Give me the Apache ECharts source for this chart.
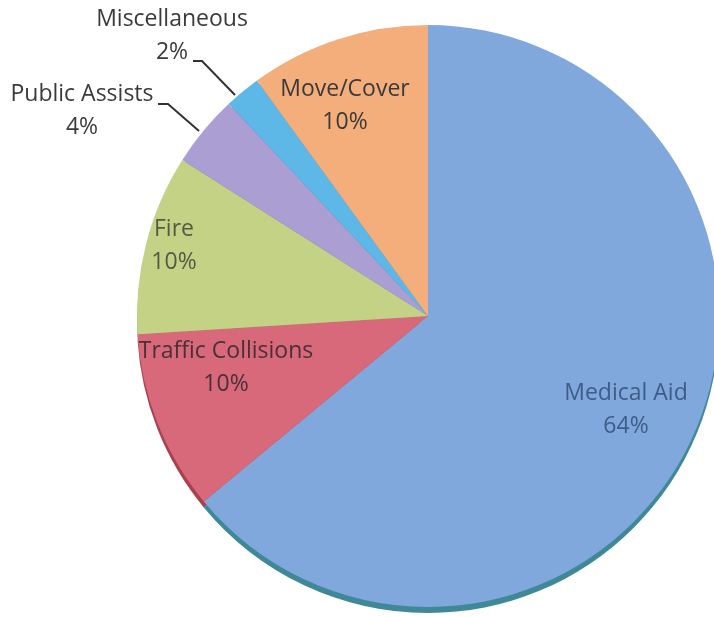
<!DOCTYPE html>
<html>
<head>
<meta charset="utf-8">
<script src="https://cdn.jsdelivr.net/npm/echarts@6/dist/echarts.min.js"></script>
<style>
html,body{margin:0;padding:0;background:#fff;}
#c{width:714px;height:617px;}
</style>
</head>
<body>
<div id="c"></div>
<script>
var categories = ['Medical Aid', 'Traffic Collisions', 'Fire', 'Public Assists', 'Miscellaneous', 'Move/Cover'];
var values = [64, 10, 10, 4, 2, 10];

var colors = ['#80a8dc', '#d8697a', '#c4d286', '#ab9ed2', '#5db8e8', '#f3ae7c'];
var rimColors = ['#3f8898', '#a8404e', '#96a45c', '#7f70a4', '#3a88b0', '#c08050'];
var textColors = ['#3e5d86', '#4a3036', '#555a45', '#3a3a3a', '#3a3a3a', '#3a3a3a'];
var outsideSet = {'Public Assists': true, 'Miscellaneous': true};

// label placement (pixel layout, not data)
var labelPos = [[626, 410], [226, 368], [174, 246], [82, 111], [172, 36], [345, 106]];
var linePts = {
  3: [[199, 131], [168, 104], [158, 104]],
  4: [[235, 95], [202, 61], [193, 61]]
};

var chart = echarts.init(document.getElementById('c'));

var mainData = categories.map(function (name, i) {
  var out = !!outsideSet[name];
  return {
    name: name,
    value: values[i],
    itemStyle: { color: colors[i] },
    label: {
      position: out ? 'outside' : 'inside',
      color: textColors[i]
    },
    labelLine: { show: out }
  };
});
var rimData = categories.map(function (name, i) {
  return { name: name, value: values[i], itemStyle: { color: rimColors[i] } };
});

chart.setOption({
  backgroundColor: '#ffffff',
  animation: false,
  series: [
    {
      type: 'pie',
      silent: true,
      center: [428, 322],
      radius: 291,
      startAngle: 90,
      clockwise: true,
      label: { show: false },
      labelLine: { show: false },
      itemStyle: { borderWidth: 0 },
      data: rimData
    },
    {
      type: 'pie',
      center: [428, 316],
      radius: 291,
      startAngle: 90,
      clockwise: true,
      avoidLabelOverlap: false,
      itemStyle: { borderWidth: 0 },
      label: {
        show: true,
        formatter: '{b}\n{c}%',
        fontFamily: 'Open Sans',
        fontSize: 23,
        lineHeight: 33,
        align: 'center'
      },
      labelLine: {
        lineStyle: { color: '#333333', width: 2 }
      },
      labelLayout: function (p) {
        var pos = labelPos[p.dataIndex];
        var r = { x: pos[0], y: pos[1], align: 'center', verticalAlign: 'middle' };
        if (linePts[p.dataIndex]) r.labelLinePoints = linePts[p.dataIndex];
        return r;
      },
      data: mainData
    }
  ]
});
</script>
</body>
</html>
